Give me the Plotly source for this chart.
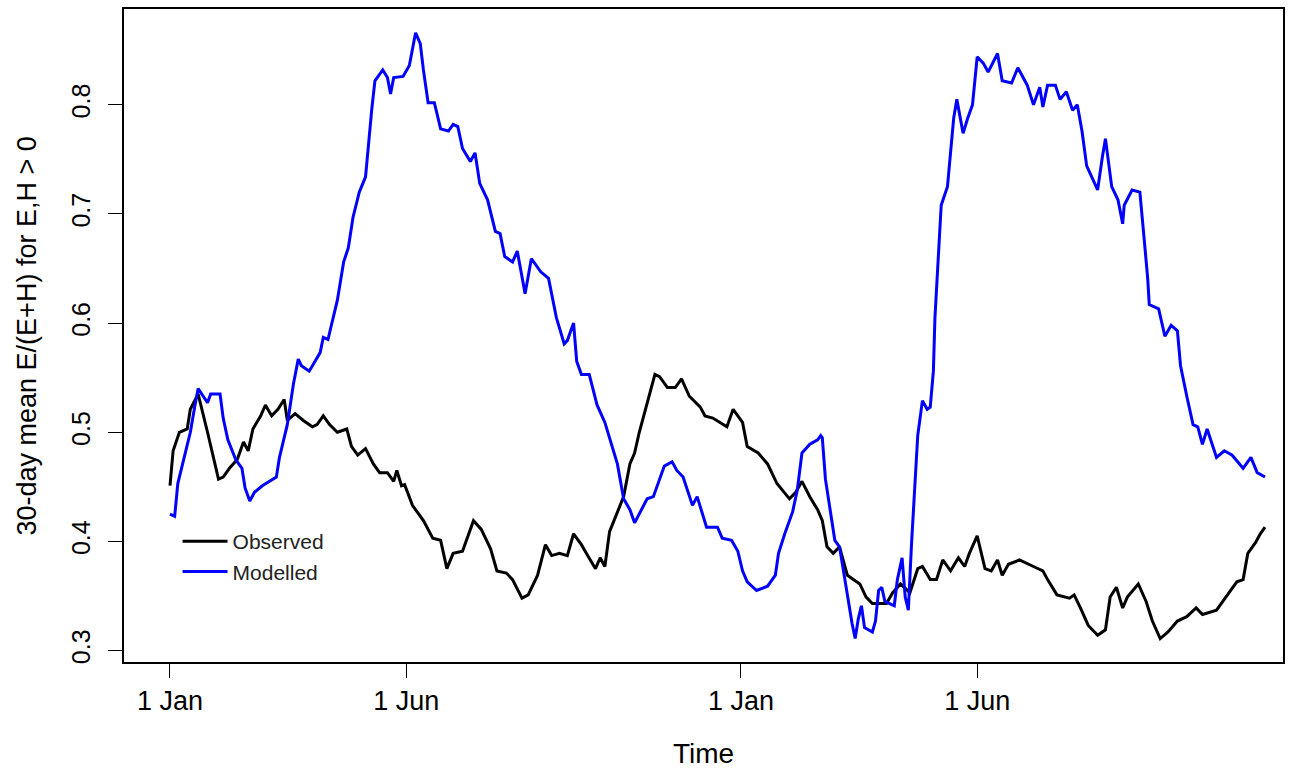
import pandas as pd
import plotly.graph_objects as go

# ---- data ----
START = "2001-01-01"

obs_day = [0, 2, 6, 11, 13, 18, 24, 27, 31, 34, 38, 43, 47, 50, 53, 58, 61, 65, 69, 73,
           75, 80, 85, 91, 94, 98, 102, 107, 113, 116, 120, 125, 130, 134, 139, 143, 145, 148, 150, 155,
           162, 168, 173, 177, 181, 187, 194, 199, 205, 209, 215, 219, 225, 229, 235, 240, 244, 249, 254, 258,
           263, 267, 272, 275, 278, 281, 286, 290, 294, 297, 300, 305, 310, 313, 318, 323, 327, 332, 339, 342,
           347, 356, 360, 366, 369, 376, 382, 388, 396, 400, 404, 409, 414, 417, 420, 424, 428, 433, 441, 445,
           449, 458, 462, 467, 473, 478, 481, 486, 490, 494, 499, 504, 508, 511, 516, 521, 525, 529, 532, 536,
           543, 552, 558, 561, 567, 575, 578, 582, 587, 593, 598, 601, 605, 609, 612, 619, 624, 628, 633, 638,
           644, 650, 656, 660, 669, 676, 682, 686, 689, 694, 697, 700]
obs_val = [0.451, 0.483, 0.500, 0.503, 0.521, 0.535, 0.500, 0.481, 0.457, 0.459, 0.467, 0.475, 0.491, 0.483, 0.503, 0.515, 0.525, 0.515, 0.521, 0.530,
           0.511, 0.517, 0.511, 0.505, 0.507, 0.515, 0.507, 0.500, 0.503, 0.487, 0.479, 0.485, 0.471, 0.463, 0.463, 0.455, 0.465, 0.451, 0.452, 0.433,
           0.419, 0.403, 0.401, 0.375, 0.389, 0.391, 0.419, 0.411, 0.393, 0.373, 0.371, 0.365, 0.348, 0.351, 0.369, 0.397, 0.387, 0.389, 0.387, 0.407,
           0.397, 0.387, 0.375, 0.385, 0.377, 0.409, 0.427, 0.441, 0.471, 0.481, 0.500, 0.527, 0.553, 0.551, 0.541, 0.541, 0.549, 0.533, 0.523, 0.515,
           0.513, 0.505, 0.521, 0.509, 0.487, 0.481, 0.471, 0.453, 0.439, 0.445, 0.455, 0.441, 0.429, 0.419, 0.395, 0.389, 0.395, 0.369, 0.361, 0.349,
           0.343, 0.343, 0.353, 0.361, 0.353, 0.375, 0.377, 0.365, 0.365, 0.383, 0.373, 0.385, 0.377, 0.389, 0.405, 0.375, 0.373, 0.383, 0.369, 0.379,
           0.383, 0.377, 0.373, 0.365, 0.351, 0.348, 0.351, 0.339, 0.323, 0.314, 0.319, 0.349, 0.358, 0.339, 0.349, 0.361, 0.345, 0.327, 0.311, 0.317,
           0.327, 0.331, 0.339, 0.333, 0.337, 0.351, 0.363, 0.365, 0.389, 0.399, 0.407, 0.413]

mod_day = [0, 3, 5, 10, 13, 16, 18, 24, 26, 32, 34, 37, 42, 46, 48, 51, 54, 59, 68, 70,
           75, 79, 82, 84, 89, 96, 98, 101, 104, 107, 111, 114, 117, 121, 125, 127, 129, 131, 136, 139,
           141, 143, 149, 153, 157, 160, 162, 165, 169, 173, 178, 181, 184, 187, 192, 195, 198, 203, 208, 211,
           214, 219, 222, 227, 231, 237, 242, 247, 252, 254, 258, 260, 263, 268, 273, 278, 283, 286, 290, 294,
           297, 300, 305, 309, 312, 316, 321, 324, 328, 334, 337, 340, 343, 350, 353, 359, 363, 366, 369, 375,
           382, 387, 389, 393, 398, 401, 404, 409, 414, 416, 417, 419, 422, 425, 428, 430, 433, 436, 438, 440,
           442, 444, 449, 451, 453, 455, 457, 463, 465, 468, 470, 472, 474, 476, 478, 481, 484, 486, 488, 489,
           491, 493, 497, 499, 501, 503, 507, 510, 513, 516, 520, 523, 529, 532, 538, 542, 548, 552, 556, 558,
           561, 566, 569, 573, 577, 580, 583, 586, 593, 596, 598, 602, 606, 609, 610, 615, 620, 623, 625, 626,
           632, 636, 640, 644, 646, 650, 654, 657, 660, 663, 669, 674, 679, 686, 691, 695, 700]
mod_val = [0.425, 0.423, 0.453, 0.481, 0.500, 0.525, 0.540, 0.527, 0.535, 0.535, 0.513, 0.493, 0.475, 0.467, 0.449, 0.437, 0.445, 0.451, 0.459, 0.477,
           0.507, 0.545, 0.567, 0.561, 0.556, 0.573, 0.587, 0.585, 0.603, 0.621, 0.656, 0.669, 0.697, 0.720, 0.734, 0.769, 0.796, 0.822, 0.832, 0.825,
           0.810, 0.825, 0.826, 0.836, 0.866, 0.856, 0.832, 0.802, 0.802, 0.778, 0.776, 0.782, 0.780, 0.760, 0.748, 0.756, 0.728, 0.713, 0.684, 0.682,
           0.661, 0.656, 0.666, 0.627, 0.659, 0.647, 0.641, 0.605, 0.581, 0.584, 0.600, 0.565, 0.553, 0.553, 0.525, 0.509, 0.485, 0.471, 0.439, 0.429,
           0.417, 0.425, 0.439, 0.441, 0.453, 0.469, 0.473, 0.465, 0.459, 0.433, 0.441, 0.427, 0.413, 0.413, 0.403, 0.401, 0.391, 0.373, 0.363, 0.355,
           0.359, 0.369, 0.389, 0.407, 0.427, 0.447, 0.481, 0.489, 0.493, 0.497, 0.495, 0.457, 0.427, 0.401, 0.395, 0.377, 0.349, 0.325, 0.311, 0.329,
           0.341, 0.321, 0.317, 0.327, 0.355, 0.358, 0.345, 0.341, 0.365, 0.385, 0.349, 0.337, 0.397, 0.449, 0.497, 0.529, 0.521, 0.523, 0.556, 0.605,
           0.656, 0.708, 0.725, 0.759, 0.788, 0.805, 0.774, 0.788, 0.800, 0.844, 0.838, 0.830, 0.847, 0.822, 0.820, 0.834, 0.818, 0.800, 0.816, 0.798,
           0.818, 0.818, 0.805, 0.812, 0.795, 0.800, 0.776, 0.744, 0.722, 0.752, 0.769, 0.725, 0.713, 0.691, 0.708, 0.722, 0.720, 0.673, 0.641, 0.617,
           0.613, 0.588, 0.598, 0.593, 0.561, 0.533, 0.507, 0.505, 0.489, 0.503, 0.477, 0.483, 0.479, 0.467, 0.477, 0.463, 0.459]

tick_dates = ["2001-01-01", "2001-06-01", "2002-01-01", "2002-06-01"]
tick_text = ["1 Jan", "1 Jun", "1 Jan", "1 Jun"]
y_ticks = [0.3, 0.4, 0.5, 0.6, 0.7, 0.8]

series_names = ["Observed", "Modelled"]
series_colors = ["black", "#0000FF"]
x_title = "Time"
y_title = "30-day mean E/(E+H) for E,H > 0"

# ---- build ----
start = pd.Timestamp(START)
obs_x = start + pd.to_timedelta(obs_day, unit="D")
mod_x = start + pd.to_timedelta(mod_day, unit="D")

FONT = "Liberation Sans, Arial, Helvetica, sans-serif"

fig = go.Figure()
fig.add_trace(go.Scatter(x=obs_x, y=obs_val, mode="lines", name=series_names[0],
                         line=dict(color=series_colors[0], width=3)))
fig.add_trace(go.Scatter(x=mod_x, y=mod_val, mode="lines", name=series_names[1],
                         line=dict(color=series_colors[1], width=3)))

x_lo = start + pd.Timedelta(days=-29.4)
x_hi = start + pd.Timedelta(days=711.5)

fig.update_layout(
    width=1290, height=769,
    margin=dict(l=124, r=7, t=9, b=107),
    paper_bgcolor="white", plot_bgcolor="white",
    font=dict(family=FONT, color="black"),
    showlegend=True,
    legend=dict(x=0.0462, y=0.1616, xanchor="left", yanchor="middle",
                bgcolor="rgba(0,0,0,0)", borderwidth=0, itemwidth=45,
                font=dict(size=21, color="#222222", family=FONT),
                tracegroupgap=0),
    xaxis=dict(
        range=[x_lo, x_hi], type="date", automargin=False,
        tickmode="array", tickvals=tick_dates, ticktext=tick_text,
        ticks="outside", ticklen=14, tickwidth=1.2, tickcolor="black",
        showline=True, linecolor="black", linewidth=1.5, mirror=True,
        showgrid=False, zeroline=False,
        tickfont=dict(size=27, family=FONT, color="black"),
        title=dict(text=x_title, font=dict(size=28, family=FONT, color="black"), standoff=30),
    ),
    yaxis=dict(
        range=[0.2895, 0.8878], automargin=False,
        tickmode="array", tickvals=y_ticks, ticktext=[f"{v:.1f}" for v in y_ticks],
        ticks="outside", ticklen=14, tickwidth=1.2, tickcolor="black",
        tickangle=-90, ticklabelstandoff=8,
        showline=True, linecolor="black", linewidth=1.5, mirror=True,
        showgrid=False, zeroline=False,
        tickfont=dict(size=25, family=FONT, color="black"),
    ),
    annotations=[dict(
        text=y_title, textangle=-90, showarrow=False,
        xref="paper", yref="paper", x=-0.0837, y=0.5,
        xanchor="center", yanchor="middle",
        font=dict(size=27, family=FONT, color="black"),
    )],
)

fig.write_html("out.html", config={"displayModeBar": False},
               post_script="document.body.style.margin='0px';")
